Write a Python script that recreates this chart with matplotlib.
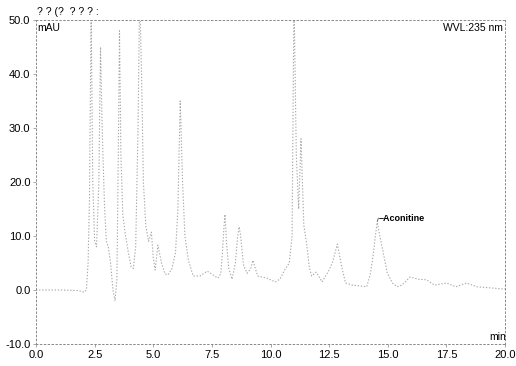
import matplotlib
matplotlib.use("Agg")
import matplotlib.pyplot as plt

plt.rcParams['font.family'] = ['Liberation Sans', 'DejaVu Sans']

# retention time (min) and absorbance (mAU)
time_min = [0.0, 1.0, 1.8, 2.05, 2.15, 2.22, 2.28, 2.35, 2.42, 2.50, 2.58, 2.68, 2.75, 2.82,
            2.92, 3.0, 3.08, 3.18, 3.28, 3.37, 3.45, 3.52, 3.56, 3.62, 3.70, 3.80, 3.92, 4.05,
            4.15, 4.25, 4.35, 4.42, 4.50, 4.58, 4.68, 4.80, 4.92, 5.0, 5.08, 5.2, 5.35, 5.5,
            5.63, 5.8, 5.95, 6.05, 6.15, 6.25, 6.35, 6.5, 6.7, 7.0, 7.3, 7.55, 7.75, 7.88,
            7.95, 8.02, 8.06, 8.12, 8.22, 8.36, 8.5, 8.6, 8.66, 8.72, 8.85, 9.0, 9.15, 9.25,
            9.45, 9.85, 10.2, 10.4, 10.6, 10.8, 10.92, 11.0, 11.1, 11.2, 11.3, 11.42, 11.55,
            11.65, 11.75, 11.95, 12.2, 12.5, 12.65, 12.85, 13.05, 13.2, 13.5, 14.1, 14.25,
            14.38, 14.47, 14.55, 14.68, 14.85, 14.98, 15.2, 15.4, 15.6, 15.95, 16.3, 16.65,
            17.0, 17.5, 17.9, 18.35, 18.8, 19.35, 19.9, 20.0]
signal_mau = [0.0, 0.0, -0.1, -0.4, 0.0, 5, 17, 52, 20, 9, 8, 20, 45, 30,
              15.7, 9, 8, 5, 0, -2, 2, 30, 48, 25, 14, 10.5, 7.4, 4.3,
              4, 8, 30, 55, 40, 20, 12, 9, 10.7, 6, 3.7, 8.3, 5, 3,
              2.8, 4, 7, 15, 35, 20, 10, 5.5, 2.6, 2.6, 3.5, 2.8, 2.2, 3,
              7, 12, 14, 9, 4, 2.0, 5, 10, 11.7, 10.2, 4.6, 3.1, 3.9, 5.5,
              2.6, 2.2, 1.5, 2.0, 3.7, 5, 10, 55, 25, 15, 28, 12, 8.3,
              4.3, 2.6, 3.3, 1.5, 3.7, 5.2, 8.5, 4, 1.3, 0.9, 0.6, 2.8,
              6.5, 10, 12.5, 9.6, 6, 3.1, 1.3, 0.6, 0.9, 2.4, 2.0, 1.9,
              0.9, 1.3, 0.6, 1.3, 0.6, 0.4, 0.2, 0.2]

x_ticks = [0.0, 2.5, 5.0, 7.5, 10.0, 12.5, 15.0, 17.5, 20.0]
y_ticks = [-10.0, 0.0, 10.0, 20.0, 30.0, 40.0, 50.0]
peak_label = "Aconitine"
peak_time = 14.55
peak_height = 12.5

fig = plt.figure(figsize=(5.16, 3.66), dpi=100)
ax = fig.add_axes([0.0698, 0.0601, 0.9089, 0.8853])

ax.plot(time_min, signal_mau, color='#a8a8a8', lw=0.8, linestyle=(0, (1.2, 1.6)),
        clip_on=True)

ax.set_xlim(0, 20)
ax.set_ylim(-10, 50)
ax.set_xticks(x_ticks)
ax.set_xticklabels([f"{v:.1f}" for v in x_ticks])
ax.set_yticks(y_ticks)
ax.set_yticklabels([f"{v:.1f}" for v in y_ticks])
ax.tick_params(axis='both', labelsize=8, length=2, width=0.6, color='#999999', pad=2)

for side in ['left', 'right', 'top', 'bottom']:
    ax.spines[side].set_linestyle((0, (1.5, 2.5)))
    ax.spines[side].set_color('#888888')
    ax.spines[side].set_linewidth(0.7)

# peak annotation
ax.plot([peak_time, peak_time + 0.05], [peak_height + 0.2, peak_height + 0.8],
        color='#555555', lw=0.6)
ax.text(peak_time + 0.05, peak_height + 0.8, "\u2013" + peak_label, fontsize=6.5,
        fontweight='bold', ha='left', va='center')

fig.text(37 / 516, 1 - 12 / 366, "? ? (?  ? ? ? :", fontsize=7.5, ha='left', va='center')
fig.text(37 / 516, 1 - 28 / 366, "mAU", fontsize=7.5, ha='left', va='center')
fig.text(503 / 516, 1 - 28 / 366, "WVL:235 nm", fontsize=7.5, ha='right', va='center')
fig.text(506 / 516, 1 - 337 / 366, "min", fontsize=7.5, ha='right', va='center')

fig.savefig("out.png", dpi=100)
